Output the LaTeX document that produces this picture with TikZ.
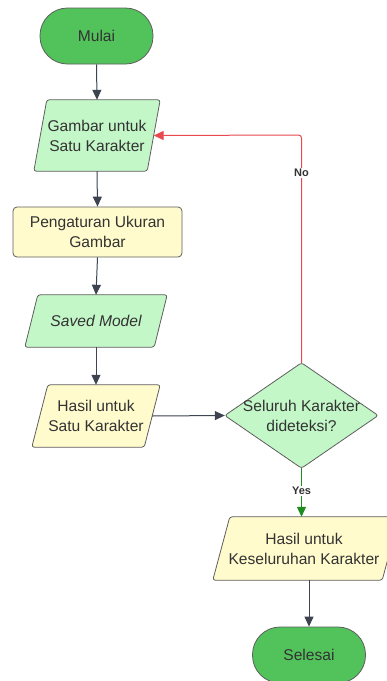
\documentclass[tikz,border=0pt]{standalone}
\usepackage{fontspec}
\setmainfont{Liberation Sans}
\usetikzlibrary{arrows.meta,backgrounds}
\definecolor{tgreen}{HTML}{52C35B}
\definecolor{lgreen}{HTML}{C3F7C8}
\definecolor{lyellow}{HTML}{FFFBCC}
\definecolor{edgec}{HTML}{5E5E5E}
\definecolor{txt}{HTML}{333333}
\definecolor{arr}{HTML}{3D4450}
\definecolor{nored}{HTML}{E8484F}
\definecolor{yesgreen}{HTML}{1E8C1E}
\begin{document}
\begin{tikzpicture}[x=1pt,y=-1pt,
  lbl/.style={font=\fontsize{15.6}{20}\selectfont, text=txt, align=center, inner sep=0pt},
  term/.style={lbl, draw=edgec, fill=tgreen, rounded corners=27.5pt, minimum width=113pt, minimum height=56pt, line width=0.8pt},
  procbox/.style={lbl, draw=edgec, fill=lyellow, rounded corners=4pt, minimum width=169pt, minimum height=50pt, line width=0.8pt},
  shapebox/.style={lbl, minimum width=#1},
  shapeline/.style={draw=edgec, line width=0.8pt, rounded corners=2.5pt, fill=#1},
  conn/.style={draw=arr, line width=1pt, -{Triangle[length=10pt,width=9pt]}},
  edgelabel/.style={font=\fontsize{11}{13}\selectfont\bfseries, text=txt, fill=white, inner sep=1.5pt}
]
\useasboundingbox (0,0) rectangle (387,681);

% nodes
\node[term] (start) at (96.5,36) {Mulai};
\node[shapebox=126pt, minimum height=71pt] (img) at (97,135.5) {Gambar untuk\\Satu Karakter};
\node[procbox] (resize) at (97.5,232) {Pengaturan Ukuran\\Gambar};
\node[shapebox=142pt, minimum height=52pt, font=\fontsize{15.6}{20}\selectfont\itshape] (model) at (96,321) {Saved Model};
\node[shapebox=128pt, minimum height=62pt] (res1) at (96,416) {Hasil untuk\\Satu Karakter};
\node[shapebox=153pt, minimum height=105pt] (dec) at (301.5,415.5) {Seluruh Karakter\\dideteksi?};
\node[shapebox=186pt, minimum height=63pt] (resall) at (306,548.5) {};
\node[lbl] (resalltxt) at (304,548.5) {Hasil untuk\\Keseluruhan Karakter};
\node[term] (stop) at (309,655) {Selesai};

% shape outlines behind texts
\begin{scope}[on background layer]
  \fill[white] (0,0) rectangle (387,681);
  \path[shapeline=lgreen] ([xshift=13pt]img.north west) -- (img.north east) -- ([xshift=-13pt]img.south east) -- (img.south west) -- cycle;
  \path[shapeline=lgreen] ([xshift=13pt]model.north west) -- (model.north east) -- ([xshift=-13pt]model.south east) -- (model.south west) -- cycle;
  \path[shapeline=lyellow] ([xshift=16pt]res1.north west) -- (res1.north east) -- ([xshift=-16pt]res1.south east) -- (res1.south west) -- cycle;
  \path[shapeline=lgreen] (dec.north) -- (dec.east) -- (dec.south) -- (dec.west) -- cycle;
  \path[shapeline=lyellow] ([xshift=17pt]resall.north west) -- (resall.north east) -- ([xshift=-17pt]resall.south east) -- (resall.south west) -- cycle;
\end{scope}

% side points on slanted edges
\coordinate (imgR) at ([xshift=-6.5pt]img.east);
\coordinate (res1R) at ([xshift=-8pt]res1.east);

% connectors
\draw[conn] (start.south) -- (img.north);
\draw[conn] (img.south) -- (resize.north);
\draw[conn] (resize.south) -- (model.north);
\draw[conn] (model.south) -- (res1.north);
\draw[conn] (res1R) -- (dec.west);
\draw[conn, draw=nored, rounded corners=3pt] (dec.north) -- (dec.north |- 0,135) -- (imgR);
\node[edgelabel] (nolbl) at (301.5,173) {No};
\draw[conn, draw=yesgreen] (dec.south) -- (dec.south |- resall.north);
\node[edgelabel] (yeslbl) at (301.5,491) {Yes};
\draw[conn] (stop.north |- resall.south) -- (stop.north);
\end{tikzpicture}
\end{document}
